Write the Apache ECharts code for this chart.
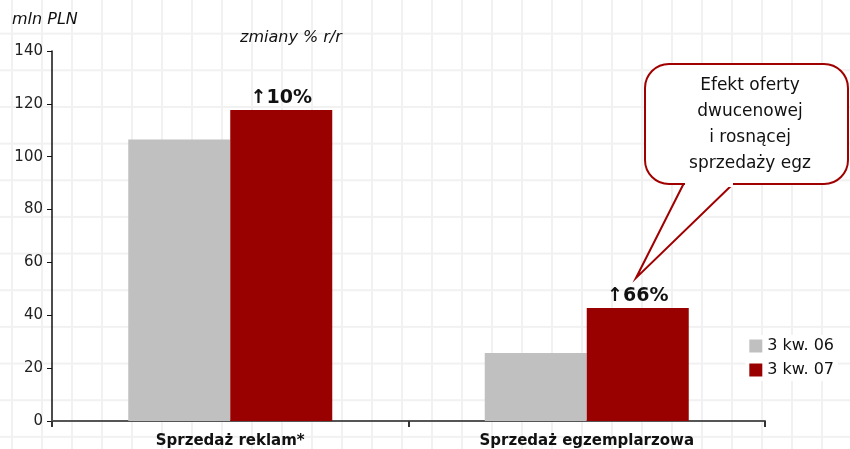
<!DOCTYPE html>
<html>
<head>
<meta charset="utf-8">
<script src="https://cdn.jsdelivr.net/npm/echarts@6/dist/echarts.min.js"></script>
<style>
    html, body { margin: 0; padding: 0; }
    #chart {
        width: 850px; height: 449px;
        background-color: #fff;
        background-image:
            linear-gradient(to right, #f1f1f1 0, #f1f1f1 2px, transparent 2px),
            linear-gradient(to bottom, #f1f1f1 0, #f1f1f1 2px, transparent 2px);
        background-size: 30px 36.67px;
        background-position: 11px -4px;
    }
</style>
</head>
<body>
<div id="chart"></div>
<script>
    // dane
    var categories = ['Sprzedaż reklam*', 'Sprzedaż egzemplarzowa'];
    var seriesNames = ['3 kw. 06', '3 kw. 07'];
    var q306 = [106.5, 25.7];
    var q307 = [117.7, 42.8];
    var changes = ['↑10%', '↑66%'];
    var yTicks = { min: 0, max: 140, interval: 20 };

    var chart = echarts.init(document.getElementById('chart'));
    var font = 'DejaVu Sans';

    chart.setOption({
        animation: false,
        textStyle: { fontFamily: font },
        grid: { left: 52, right: 85, top: 51, bottom: 28, containLabel: false },
        legend: {
            data: seriesNames,
            orient: 'vertical',
            right: 12,
            top: 335,
            icon: 'rect',
            itemWidth: 13,
            itemHeight: 13,
            itemGap: 8,
            padding: [3, 4, 3, 4],
            backgroundColor: '#fff',
            textStyle: { fontSize: 16, color: '#111', fontFamily: font }
        },
        xAxis: {
            type: 'category',
            data: categories,
            axisLine: { lineStyle: { color: '#555', width: 2 } },
            axisTick: { show: true, length: 6, lineStyle: { color: '#333', width: 2 } },
            axisLabel: { fontWeight: 'bold', fontSize: 15, color: '#111', margin: 13, fontFamily: font }
        },
        yAxis: {
            type: 'value',
            min: yTicks.min,
            max: yTicks.max,
            interval: yTicks.interval,
            axisLine: { show: true, lineStyle: { color: '#111', width: 1.5 } },
            axisTick: { show: true, length: 5, lineStyle: { color: '#111' } },
            splitLine: { show: false },
            axisLabel: { fontSize: 15, color: '#222', margin: 9, fontFamily: font }
        },
        series: [
            {
                name: seriesNames[0],
                type: 'bar',
                barWidth: 102,
                barGap: 0,
                itemStyle: { color: '#c0c0c0' },
                data: q306
            },
            {
                name: seriesNames[1],
                type: 'bar',
                barWidth: 102,
                itemStyle: { color: '#990000' },
                label: {
                    show: true,
                    position: 'top',
                    distance: 2,
                    fontWeight: 'bold',
                    fontSize: 19,
                    fontFamily: font,
                    color: '#111',
                    formatter: function (p) { return changes[p.dataIndex]; }
                },
                data: q307
            }
        ],
        graphic: [
            {
                type: 'text', left: 12, top: 12,
                style: { text: 'mln PLN', font: 'italic 16px ' + font, fill: '#111' }
            },
            {
                type: 'text', left: 240, top: 30,
                style: { text: 'zmiany % r/r', font: 'italic 16px ' + font, fill: '#111' }
            },
            // dymek
            {
                type: 'polygon',
                shape: { points: [[684, 183], [636, 278], [734, 183]] },
                style: { fill: '#fff', stroke: '#a00000', lineWidth: 2 },
                z: 10
            },
            {
                type: 'rect',
                shape: { x: 645, y: 64, width: 203, height: 120, r: 24 },
                style: { fill: '#fff', stroke: '#a00000', lineWidth: 2 },
                z: 11
            },
            {
                type: 'rect',
                shape: { x: 685, y: 181, width: 48, height: 6 },
                style: { fill: '#fff' },
                z: 12
            },
            {
                type: 'text', x: 750, y: 73,
                style: {
                    text: 'Efekt oferty\ndwucenowej\ni rosnącej\nsprzedaży egz',
                    font: '17px ' + font,
                    lineHeight: 26,
                    align: 'center',
                    fill: '#111'
                },
                z: 13
            }
        ]
    });
</script>
</body>
</html>
